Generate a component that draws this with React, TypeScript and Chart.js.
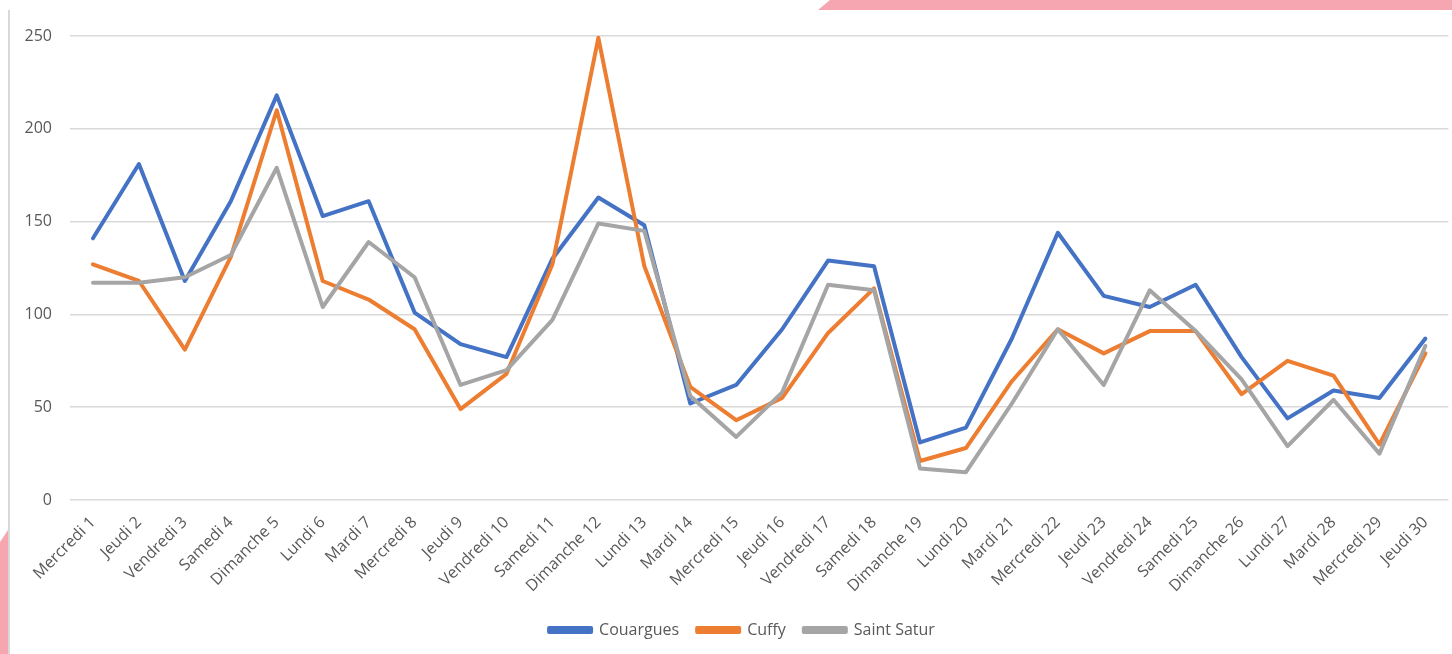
import React, { useEffect, useRef } from "react";
import { Chart, registerables } from "chart.js";

Chart.register(...registerables);

const categories = [
  "Mercredi 1", "Jeudi 2", "Vendredi 3", "Samedi 4", "Dimanche 5", "Lundi 6", "Mardi 7",
  "Mercredi 8", "Jeudi 9", "Vendredi 10", "Samedi 11", "Dimanche 12", "Lundi 13", "Mardi 14",
  "Mercredi 15", "Jeudi 16", "Vendredi 17", "Samedi 18", "Dimanche 19", "Lundi 20", "Mardi 21",
  "Mercredi 22", "Jeudi 23", "Vendredi 24", "Samedi 25", "Dimanche 26", "Lundi 27", "Mardi 28",
  "Mercredi 29", "Jeudi 30",
];

const couargues = [141, 181, 118, 161, 218, 153, 161, 101, 84, 77, 130, 163, 148, 52, 62, 92, 129, 126, 31, 39, 87, 144, 110, 104, 116, 77, 44, 59, 55, 87];
const cuffy = [127, 118, 81, 131, 210, 118, 108, 92, 49, 68, 127, 249, 126, 61, 43, 55, 90, 114, 21, 28, 64, 92, 79, 91, 91, 57, 75, 67, 30, 79];
const saintSatur = [117, 117, 120, 132, 179, 104, 139, 120, 62, 70, 97, 149, 145, 56, 34, 58, 116, 113, 17, 15, 52, 92, 62, 113, 91, 65, 29, 54, 25, 83];

const seriesNames = ["Couargues", "Cuffy", "Saint Satur"];
const seriesColors = ["#4472C4", "#ED7D31", "#A5A5A5"];
const yTicks = [0, 50, 100, 150, 200, 250];

const FONT = "'Open Sans', 'Liberation Sans', sans-serif";
const TEXT = "#595959";

const legendShift = {
  id: "legendShift",
  afterLayout(chart: any) {
    const lg = chart.legend;
    if (lg) {
      lg.left += 17;
      lg.right += 17;
    }
  },
};

export default function App() {
  const ref = useRef<HTMLCanvasElement | null>(null);

  useEffect(() => {
    document.body.style.margin = "0";
    const canvas = ref.current;
    if (!canvas) return;
    const values = [couargues, cuffy, saintSatur];
    const chart = new Chart(canvas, {
      type: "line",
      data: {
        labels: categories,
        datasets: values.map((v, i) => ({
          label: seriesNames[i],
          data: v,
          borderColor: seriesColors[i],
          backgroundColor: seriesColors[i],
          borderWidth: 4,
          pointRadius: 0,
          pointHoverRadius: 0,
          tension: 0,
          borderJoinStyle: "round" as const,
          borderCapStyle: "round" as const,
          order: 3 - i,
        })),
      },
      plugins: [legendShift],
      options: {
        animation: false,
        responsive: false,
        maintainAspectRatio: false,
        layout: { padding: { left: 0, right: 2, top: 36, bottom: 6 } },
        plugins: {
          tooltip: { enabled: false },
          legend: {
            position: "bottom",
            reverse: true,
            labels: {
              boxWidth: 42,
              boxHeight: 4,
              padding: 18,
              color: TEXT,
              font: { family: FONT, size: 16 },
            },
          },
        },
        scales: {
          x: {
            offset: true,
            grid: { display: false, drawTicks: false },
            border: { display: false },
            ticks: {
              minRotation: 45,
              maxRotation: 45,
              autoSkip: false,
              padding: 13,
              color: TEXT,
              font: { family: FONT, size: 16 },
            },
            afterFit: (s: any) => {
              s.height = 104;
            },
          },
          y: {
            min: 0,
            max: 250,
            afterBuildTicks: (s: any) => {
              s.ticks = yTicks.map((v) => ({ value: v }));
            },
            grid: { color: "#D9D9D9", lineWidth: 1.5, drawTicks: false },
            border: { display: false },
            ticks: {
              padding: 18,
              color: TEXT,
              font: { family: FONT, size: 16 },
            },
            afterFit: (s: any) => {
              s.width = 70;
            },
          },
        },
      },
    });
    return () => chart.destroy();
  }, []);

  return (
    <div style={{ position: "relative", width: 1452, height: 654, overflow: "hidden", background: "#fff" }}>
      <div
        style={{
          position: "absolute",
          left: 818,
          top: 0,
          width: 634,
          height: 10,
          background: "#F5A6B0",
          clipPath: "polygon(12px 0, 100% 0, 100% 100%, 0 100%)",
        }}
      />
      <div
        style={{
          position: "absolute",
          left: 0,
          top: 530,
          width: 8,
          height: 124,
          background: "#F5A6B0",
          clipPath: "polygon(0 12px, 100% 0, 100% 100%, 0 100%)",
        }}
      />
      <div style={{ position: "absolute", left: 8, top: 10, width: 2, height: 644, background: "#D9D9D9" }} />
      <canvas ref={ref} width={1452} height={654} style={{ position: "absolute", left: 0, top: 0 }} />
    </div>
  );
}
